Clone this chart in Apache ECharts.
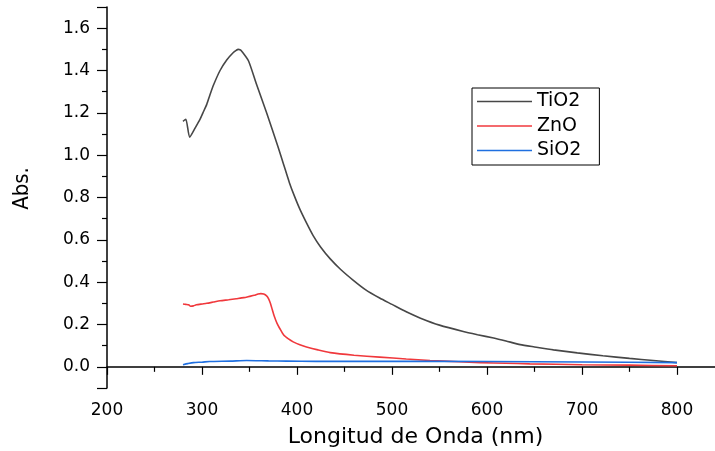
<!DOCTYPE html>
<html>
<head>
<meta charset="utf-8">
<script src="https://cdn.jsdelivr.net/npm/echarts@6/dist/echarts.min.js"></script>
<style>
  html, body { margin: 0; padding: 0; background: #fff; overflow: hidden; }
  #chart { width: 715px; height: 451px; }
</style>
</head>
<body>
<div id="chart"></div>
<script>
// longitud de onda (nm) y absorbancia
const tio2Wave = [280, 283, 287, 293, 298, 301, 305, 308, 312, 319, 326, 333, 336, 338, 340, 342, 349, 357, 368, 380, 386, 392, 397, 403, 410, 417, 425, 435, 446, 459, 472, 487, 500, 515, 530, 550, 575, 590, 607, 620, 635, 650, 670, 695, 722, 750, 775, 800];
const tio2Abs = [1.16, 1.17, 1.085, 1.13, 1.17, 1.20, 1.24, 1.28, 1.33, 1.40, 1.45, 1.485, 1.495, 1.50, 1.498, 1.49, 1.445, 1.34, 1.20, 1.04, 0.955, 0.87, 0.81, 0.745, 0.68, 0.62, 0.565, 0.51, 0.46, 0.41, 0.365, 0.325, 0.295, 0.26, 0.23, 0.197, 0.167, 0.152, 0.136, 0.122, 0.105, 0.094, 0.08, 0.066, 0.052, 0.04, 0.03, 0.02];

const znoWave = [280, 283, 286, 288, 291, 294, 300, 305, 312, 319, 328, 336, 344, 350, 355, 359, 362, 365, 368, 370, 372, 374, 376, 379, 382, 386, 391, 396, 403, 410, 422, 435, 460, 487, 515, 540, 570, 593, 620, 645, 700, 750, 800];
const znoAbs = [0.297, 0.295, 0.293, 0.286, 0.288, 0.293, 0.297, 0.30, 0.306, 0.312, 0.317, 0.322, 0.327, 0.333, 0.338, 0.344, 0.346, 0.344, 0.335, 0.322, 0.30, 0.27, 0.24, 0.205, 0.18, 0.15, 0.132, 0.118, 0.104, 0.094, 0.08, 0.067, 0.055, 0.046, 0.037, 0.03, 0.024, 0.02, 0.017, 0.014, 0.01, 0.008, 0.005];

const sio2Wave = [280, 285, 291, 300, 308, 330, 347, 370, 389, 420, 500, 600, 700, 800];
const sio2Abs = [0.01, 0.015, 0.02, 0.022, 0.025, 0.027, 0.03, 0.028, 0.027, 0.026, 0.026, 0.025, 0.023, 0.02];

const seriesNames = ['TiO2', 'ZnO', 'SiO2'];
const seriesColors = ['#474747', '#f0383c', '#1f6fe0'];
const lastXLabel = 800;

function pairs(xs, ys) {
  return xs.map((x, i) => [x, ys[i]]);
}

const chart = echarts.init(document.getElementById('chart'));
const font = 'DejaVu Sans, Verdana, sans-serif';
const black = { color: '#000', width: 1.2 };

chart.setOption({
  animation: false,
  // x axis runs to 900 past the right edge, so the visible line stops at the canvas edge (~840)
  grid: { left: 107, right: -57, top: 7, bottom: 63, outerBoundsMode: 'none' },
  legend: {
    left: 472,
    top: 88,
    orient: 'vertical',
    data: seriesNames,
    icon: 'rect',
    borderColor: '#000',
    borderWidth: 1,
    padding: [4, 18, 5, 5],
    itemWidth: 55,
    itemHeight: 1.6,
    itemGap: 5.5,
    textStyle: { fontFamily: font, fontSize: 19, color: '#000' }
  },
  xAxis: {
    type: 'value',
    min: 200,
    max: 900,
    interval: 100,
    name: 'Longitud de Onda (nm)',
    nameLocation: 'middle',
    nameGap: 38,
    nameTextStyle: { fontFamily: font, fontSize: 22, color: '#000', padding: [0, 48, 0, 0] },
    axisLine: { lineStyle: { color: '#000', width: 1.5 } },
    axisTick: { show: true, length: 8, lineStyle: black },
    minorTick: { show: true, splitNumber: 2, length: 5, lineStyle: black },
    axisLabel: {
      fontFamily: font, fontSize: 17, color: '#000', margin: 14,
      showMaxLabel: false,
      formatter: v => (Number(v) > lastXLabel ? '' : String(v))
    },
    splitLine: { show: false }
  },
  yAxis: {
    type: 'value',
    min: -0.1,
    max: 1.7,
    splitNumber: 9,
    name: 'Abs.',
    nameLocation: 'middle',
    nameGap: 74,
    nameTextStyle: {
      fontFamily: 'Liberation Sans Narrow, DejaVu Sans Condensed, Liberation Sans, Arial, sans-serif',
      fontSize: 22, color: '#000', padding: [0, 0, 0, 18]
    },
    axisLine: { show: true, lineStyle: { color: '#000', width: 1.5 } },
    axisTick: { show: true, length: 10, lineStyle: black },
    minorTick: { show: true, splitNumber: 2, length: 5, lineStyle: black },
    axisLabel: {
      fontFamily: font, fontSize: 17, color: '#000', margin: 17,
      showMinLabel: false, showMaxLabel: false,
      formatter: v => v.toFixed(1)
    },
    splitLine: { show: false }
  },
  series: [
    {
      name: 'TiO2', type: 'line', symbol: 'none', smooth: 0.2,
      color: seriesColors[0], lineStyle: { width: 1.6 },
      data: pairs(tio2Wave, tio2Abs)
    },
    {
      name: 'ZnO', type: 'line', symbol: 'none', smooth: 0.2,
      color: seriesColors[1], lineStyle: { width: 1.6 },
      data: pairs(znoWave, znoAbs)
    },
    {
      name: 'SiO2', type: 'line', symbol: 'none', smooth: 0.2,
      color: seriesColors[2], lineStyle: { width: 1.6 },
      data: pairs(sio2Wave, sio2Abs)
    }
  ]
});
</script>
</body>
</html>
